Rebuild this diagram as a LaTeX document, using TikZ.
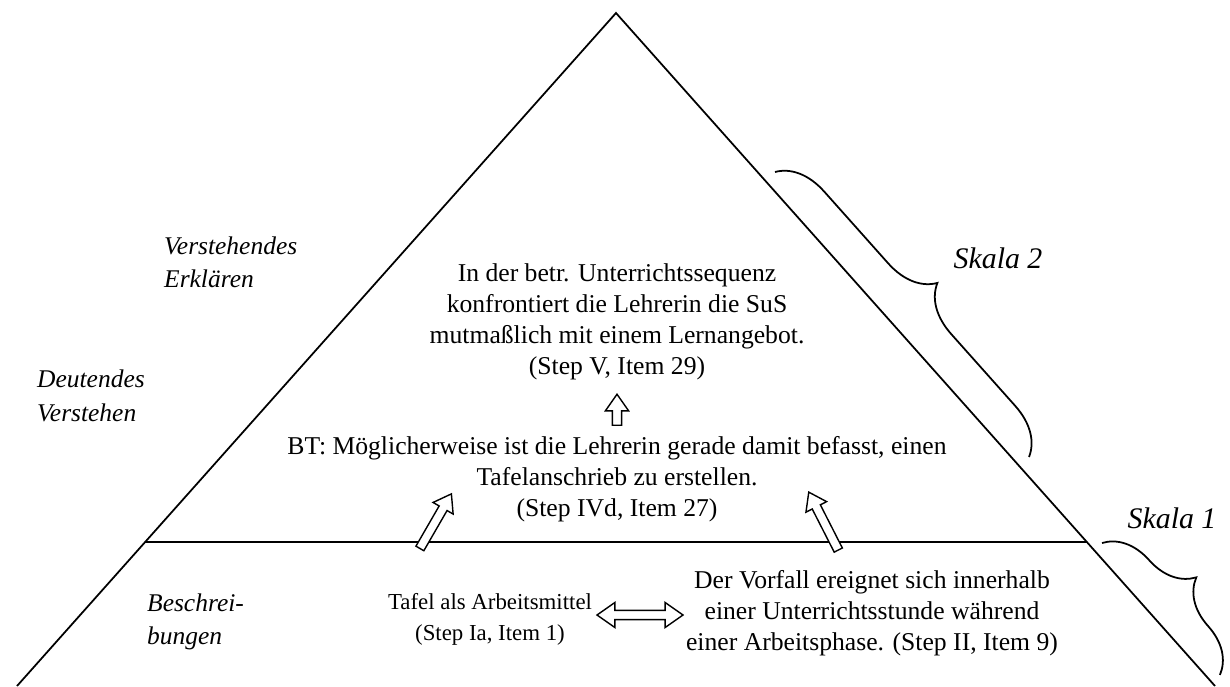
\documentclass[tikz,border=0pt]{standalone}
\usepackage{fontspec}
\setmainfont{Liberation Serif}
\usetikzlibrary{calc,shapes.arrows,decorations.pathreplacing}

\begin{document}
\begin{tikzpicture}[x=0.02cm,y=-0.02cm,
  side/.style={line width=1pt},
  body/.style={align=center,font=\fontsize{14.6}{17.6}\selectfont},
  level/.style={anchor=west,align=left,font=\fontsize{14.5}{19}\selectfont\itshape},
  skala/.style={font=\fontsize{17}{19}\selectfont\itshape},
  blockarrow/.style={single arrow,draw,fill=white,line width=0.8pt,inner sep=2.2pt,
    single arrow head extend=4pt,single arrow tip angle=70,minimum height=#1},
  twoarrow/.style={double arrow,draw,fill=white,line width=0.8pt,inner sep=2.2pt,
    double arrow head extend=4.5pt,double arrow tip angle=70,minimum height=#1},
  skalabrace/.style={decorate,decoration={brace,amplitude=27pt},line width=1pt}]
  \useasboundingbox (0,0) rectangle (1230,686);

  % triangle and dividing line
  \coordinate (apex) at (616,13);
  \coordinate (botL) at (17,686);
  \coordinate (botR) at (1215,686);
  \draw[side] (botL) -- (apex) -- (botR);
  \coordinate (divL) at ($(apex)!0.786!(botL)$);
  \coordinate (divR) at ($(apex)!0.786!(botR)$);
  \draw[line width=0.6pt] (divL) -- (divR);
  \draw[line width=1pt] (divL) -- +(121,0);

  % levels
  \node[level] (erklaeren) at (158,262) {Verstehendes\\Erklären};
  \node[level] (verstehen) at (31,396) {Deutendes\\Verstehen};
  \node[level] (beschreib) at (141,622) {Beschrei-\\bungen};

  % scales
  \draw[skalabrace] (775,172) -- (1029,457);
  \draw[skalabrace] (1102,543) -- (1220,675);
  \node[skala] (skala2) at (998,258) {Skala 2};
  \node[skala] (skala1) at (1172,518) {Skala 1};

  % statements
  \node[body] (stepV) at (617,322) {In der betr. Unterrichtssequenz\\
    konfrontiert die Lehrerin die SuS\\ mutmaßlich mit einem Lernangebot.\\ (Step V, Item 29)};
  \node[body] (stepIVd) at (617,479) {BT: Möglicherweise ist die Lehrerin gerade damit befasst, einen\\
    Tafelanschrieb zu erstellen.\\ (Step IVd, Item 27)};
  \node[body,font=\fontsize{13}{17.6}\selectfont] (stepIa) at (490,619) {Tafel als Arbeitsmittel\\ (Step Ia, Item 1)};
  \node[body] (stepII) at (872,613) {Der Vorfall ereignet sich innerhalb\\
    einer Unterrichtsstunde während\\ einer Arbeitsphase. (Step II, Item 9)};

  % arrows
  \node[blockarrow=0.62cm,rotate=90] (upArrow) at (617,413) {};
  \node[blockarrow=1.26cm,rotate=60] (leftArrow) at (434,524) {};
  \node[blockarrow=1.3cm,rotate=117] (rightArrow) at (825,524) {};
  \node[twoarrow=1.72cm] (bothArrow) at (640,615) {};
\end{tikzpicture}
\end{document}
